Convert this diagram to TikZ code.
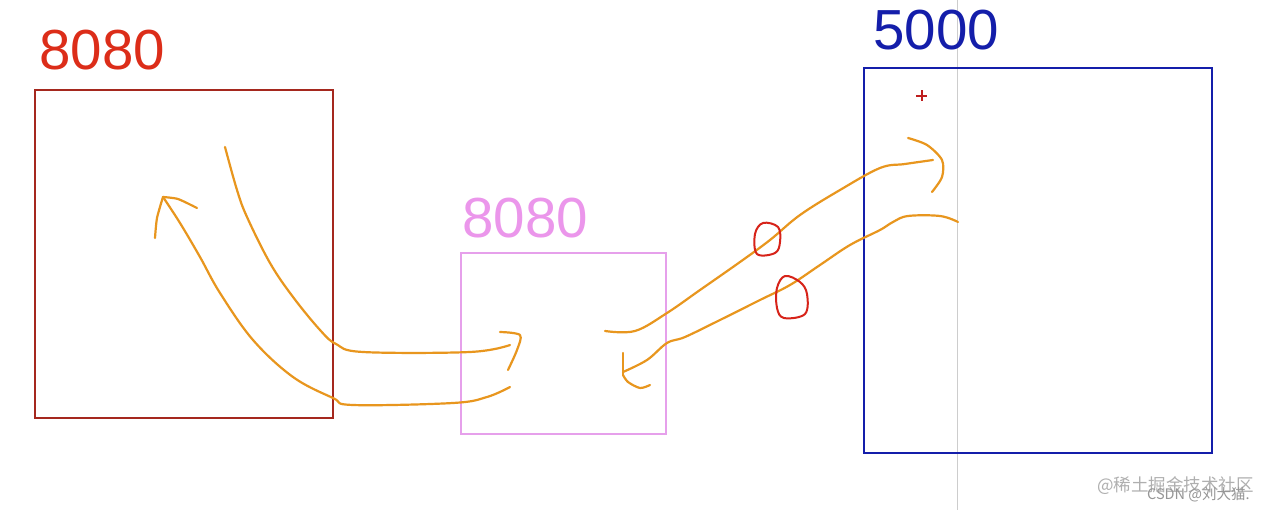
\documentclass[tikz,border=0pt]{standalone}
\usepackage{fontspec}
\setmainfont{Liberation Sans}
\newfontfamily\cjkfont{Noto Sans CJK SC}
\begin{document}
\begin{tikzpicture}[x=1pt,y=-1pt,
  stroke/.style={draw=penorange,line width=2.2pt,line cap=round,line join=round},
  mark8/.style={draw=markred,line width=2pt,line join=round},
  lbl/.style={inner sep=0pt,anchor=base west,font=\fontsize{56.5}{56.5}\selectfont}]
\definecolor{penorange}{RGB}{232,150,30}
\definecolor{markred}{RGB}{215,35,25}
\definecolor{boxred}{RGB}{165,40,30}
\definecolor{txtred}{RGB}{220,45,25}
\definecolor{boxpink}{RGB}{230,160,235}
\definecolor{txtpink}{RGB}{235,150,235}
\definecolor{boxblue}{RGB}{20,30,170}
\definecolor{wm}{RGB}{175,175,175}
\useasboundingbox[fill=white] (0,0) rectangle (1274,510);
% vertical guide
\draw[draw={rgb,255:red,205;green,205;blue,205},line width=1pt] (957,0) -- (957,510);
% boxes
\node[draw=boxred,line width=2.5pt,minimum width=298pt,minimum height=328pt,inner sep=0pt] (A) at (184,254) {};
\node[draw=boxpink,line width=2pt,minimum width=205pt,minimum height=181pt,inner sep=0pt] (B) at (563.5,343.5) {};
\node[draw=boxblue,line width=2.5pt,minimum width=348pt,minimum height=385pt,inner sep=0pt] (C) at (1038,260.5) {};
% labels
\node[lbl,text=txtred] (la) at (39,70) {8080};
\node[lbl,text=txtpink] (lb) at (462,238) {8080};
\node[lbl,text=boxblue] (lc) at (873,50) {5000};
% plus marker
\draw[draw={rgb,255:red,190;green,30;blue,30},line width=2pt] (916,96) -- (927,96) (921.5,90.5) -- (921.5,101.5);
% arrow 1: red box -> pink box
\draw[stroke] plot[smooth,tension=0.6] coordinates {(225,147) (237,190) (247,217) (270,263) (293,297) (320,330) (336,344) (363,352) (470,352) (510,345)};
\draw[stroke] plot[smooth,tension=0.5] coordinates {(500,332) (520,335) (517,350) (508,370)};
% arrow 2: pink box -> red box
\draw[stroke] plot[smooth,tension=0.6] coordinates {(510,387) (487,397) (453,403) (353,405) (333,398) (293,377) (253,340) (220,293) (200,257) (180,223) (163,197)};
\draw[stroke] plot[smooth,tension=0.4] coordinates {(155,238) (157,218) (163,197)};
\draw[stroke] plot[smooth,tension=0.4] coordinates {(163,197) (178,199) (197,208)};
% arrow 3: pink box -> blue box
\draw[stroke] plot[smooth,tension=0.6] coordinates {(605,331) (635,331) (667,313) (700,290) (740,262) (770,240) (800,215) (840,190) (880,168) (905,164) (933,160)};
\draw[stroke] plot[smooth,tension=0.5] coordinates {(908,138) (927,145) (942,160) (942,177) (932,192)};
% arrow 4: blue box -> pink box
\draw[stroke] plot[smooth,tension=0.6] coordinates {(958,222) (940,216) (908,216) (893,222) (880,230) (850,245) (820,265) (790,285) (760,300) (720,320) (685,337) (667,343) (647,360) (623,372)};
\draw[stroke] (623,353) -- (623,375);
\draw[stroke] plot[smooth,tension=0.5] coordinates {(623,375) (628,382) (640,388) (650,385)};
% red circles
\draw[mark8] plot[smooth cycle,tension=0.6] coordinates {(755,234) (763,223) (778,227) (780,242) (775,253) (757,254)};
\draw[mark8] plot[smooth cycle,tension=0.6] coordinates {(777,288) (785,276) (800,282) (807,294) (805,314) (784,318) (777,308)};
% watermark
\node[inner sep=0pt,anchor=base west,text=wm,font=\cjkfont\fontsize{17.5}{17.5}\selectfont] (wm1) at (1097,491) {@稀土掘金技术社区};
\node[inner sep=0pt,anchor=base west,text={rgb,255:red,150;green,150;blue,150},font=\cjkfont\fontsize{14.5}{14.5}\selectfont] (wm2) at (1147,499) {CSDN @刘大猫.};
\end{tikzpicture}
\end{document}
